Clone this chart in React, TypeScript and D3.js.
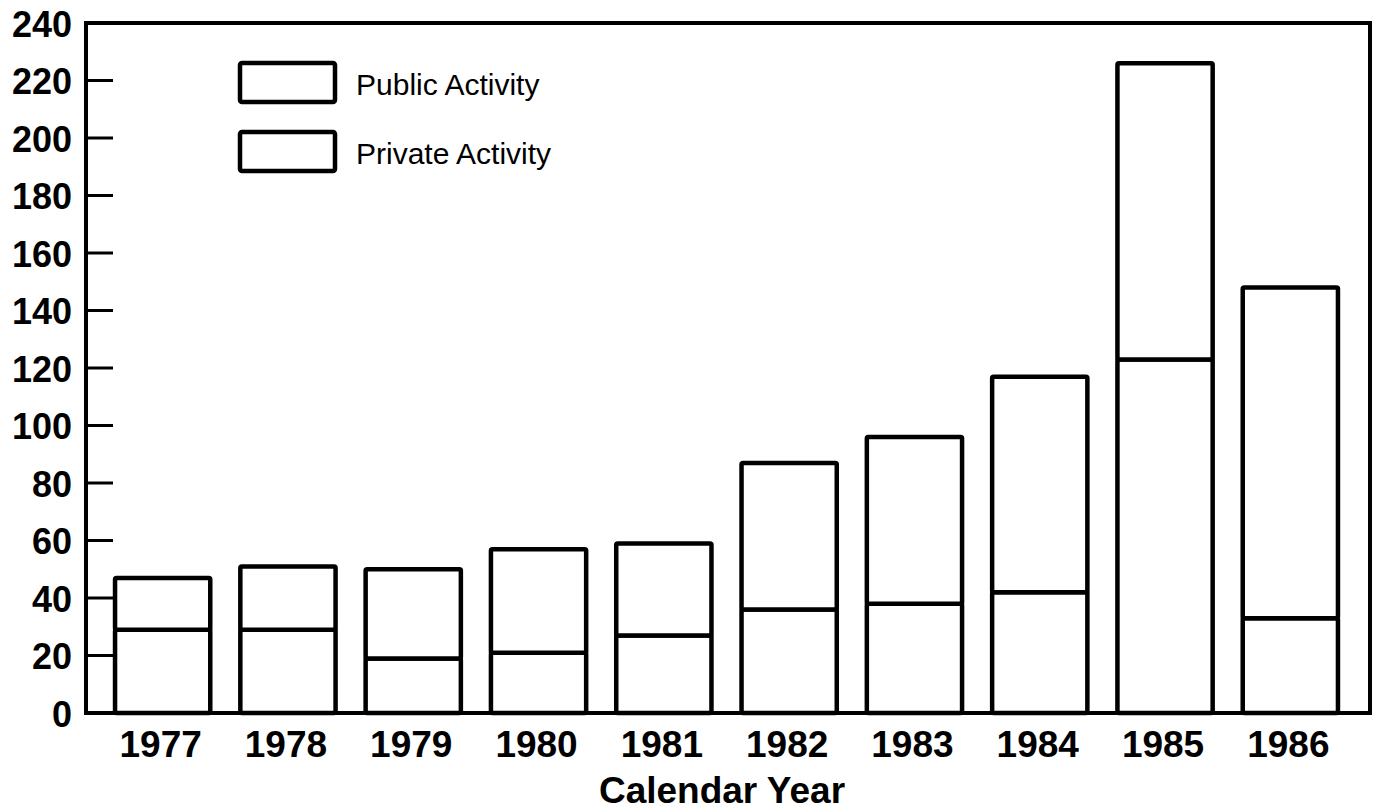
import React, { useEffect, useRef } from "react";
import * as d3 from "d3";

const years = ["1977", "1978", "1979", "1980", "1981", "1982", "1983", "1984", "1985", "1986"];
const privateActivity = [29, 29, 19, 21, 27, 36, 38, 42, 123, 33];
const publicActivity = [18, 22, 31, 36, 32, 51, 58, 75, 103, 115];
const yTicks = [0, 20, 40, 60, 80, 100, 120, 140, 160, 180, 200, 220, 240];
const legendLabels = ["Public Activity", "Private Activity"];

const width = 1374;
const height = 810;
const left = 86;
const right = 1370;
const top = 23;
const bottom = 713;
const font = "'Liberation Sans', Arial, Helvetica, sans-serif";

const App = () => {
  const chart = useRef<SVGSVGElement>(null);

  useEffect(() => {
    const svg = d3.select(chart.current);
    svg.selectAll("*").remove();

    const rows = years.map((y, i) => ({ year: y, priv: privateActivity[i], pub: publicActivity[i] }));
    const stack = d3.stack<any>().keys(["priv", "pub"])(rows);

    const x = d3.scaleBand().domain(years).range([100, 1353]).paddingInner(0.24).paddingOuter(0.12);
    const y = d3.scaleLinear().domain([0, 240]).range([bottom, top]);

    // bars, private at the bottom, public stacked on top
    svg
      .append("g")
      .selectAll("g")
      .data(stack)
      .join("g")
      .selectAll("rect")
      .data(d => d)
      .join("rect")
      .attr("x", d => x(d.data.year)!)
      .attr("y", d => y(d[1]))
      .attr("width", x.bandwidth())
      .attr("height", d => y(d[0]) - y(d[1]))
      .attr("fill", "#fff")
      .attr("stroke", "#000")
      .attr("stroke-width", 4.5)
      .attr("rx", 1.5);

    // frame: left axis, bottom axis, top and right border
    svg
      .append("path")
      .attr("d", `M${left},${top}H${right}V${bottom}H${left}Z`)
      .attr("fill", "none")
      .attr("stroke", "#000")
      .attr("stroke-width", 4);

    // y ticks point inward
    const yAxis = svg.append("g");
    yAxis
      .selectAll("line")
      .data(yTicks.filter(t => t > 0 && t < 240))
      .join("line")
      .attr("x1", left)
      .attr("x2", left + 27)
      .attr("y1", d => y(d))
      .attr("y2", d => y(d))
      .attr("stroke", "#000")
      .attr("stroke-width", 3);
    yAxis
      .selectAll("text")
      .data(yTicks)
      .join("text")
      .attr("x", 72)
      .attr("y", d => y(d) + 1)
      .attr("text-anchor", "end")
      .attr("dominant-baseline", "central")
      .attr("font-family", font)
      .attr("font-weight", "bold")
      .attr("font-size", 36)
      .text(d => d);

    svg
      .append("g")
      .selectAll("text")
      .data(years)
      .join("text")
      .attr("x", d => x(d)! + x.bandwidth() / 2 - 2)
      .attr("y", 757)
      .attr("text-anchor", "middle")
      .attr("font-family", font)
      .attr("font-weight", "bold")
      .attr("font-size", 37)
      .text(d => d);

    svg
      .append("text")
      .attr("x", 722)
      .attr("y", 803)
      .attr("text-anchor", "middle")
      .attr("font-family", font)
      .attr("font-weight", "bold")
      .attr("font-size", 37)
      .text("Calendar Year");

    // legend
    const legend = svg
      .append("g")
      .selectAll("g")
      .data(legendLabels)
      .join("g")
      .attr("transform", (d, i) => `translate(240,${63 + i * 69})`);
    legend
      .append("rect")
      .attr("width", 95)
      .attr("height", 39)
      .attr("rx", 2)
      .attr("fill", "#fff")
      .attr("stroke", "#000")
      .attr("stroke-width", 4.5);
    legend
      .append("text")
      .attr("x", 116)
      .attr("y", 21)
      .attr("dominant-baseline", "central")
      .attr("font-family", font)
      .attr("font-size", 30)
      .text(d => d);
  }, []);

  return (
    <svg
      ref={chart}
      width={width}
      height={height}
      viewBox={`0 0 ${width} ${height}`}
      style={{ position: "absolute", left: 0, top: 0, background: "#fff" }}
    ></svg>
  );
};

export default App;
